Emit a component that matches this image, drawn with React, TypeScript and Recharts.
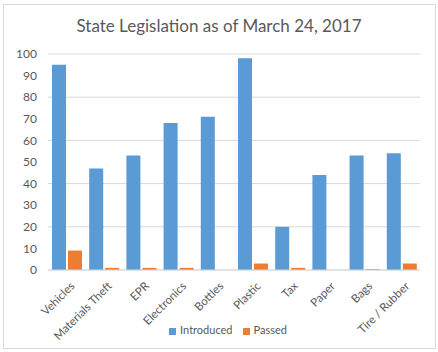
import React from "react";
import {
  BarChart,
  Bar,
  XAxis,
  YAxis,
  CartesianGrid,
  Legend,
} from "recharts";

const categories: string[] = [
  "Vehicles",
  "Materials Theft",
  "EPR",
  "Electronics",
  "Bottles",
  "Plastic",
  "Tax",
  "Paper",
  "Bags",
  "Tire / Rubber",
];
const introduced: number[] = [95, 47, 53, 68, 71, 98, 20, 44, 53, 54];
const passed: number[] = [9, 1, 1, 1, 0, 3, 1, 0, 0.4, 3];
const yTicks: number[] = [0, 10, 20, 30, 40, 50, 60, 70, 80, 90, 100];

const data = categories.map((name, i) => ({
  name,
  Introduced: introduced[i],
  Passed: passed[i],
}));

const FONT = "Lato, 'Open Sans', sans-serif";
const GREY = "#595959";

const App: React.FC = () => {
  return (
    <div
      style={{
        position: "absolute",
        left: 0,
        top: 0,
        width: 438,
        height: 352,
        background: "#fff",
        fontFamily: FONT,
      }}
    >
      {/* chart frame */}
      <div
        style={{
          position: "absolute",
          left: 3,
          top: 4,
          width: 431,
          height: 343,
          border: "1px solid #d9d9d9",
        }}
      />
      <div
        style={{
          position: "absolute",
          left: 0,
          top: 15,
          width: 438,
          textAlign: "center",
          fontSize: 17,
          color: GREY,
        }}
      >
        State Legislation as of March 24, 2017
      </div>
      <div style={{ position: "absolute", left: 0, top: 0 }}>
        <BarChart
          width={438}
          height={352}
          data={data}
          margin={{ top: 54, right: 18, left: 0, bottom: 0 }}
          barSize={14}
          barGap={2}
        >
          <CartesianGrid vertical={false} stroke="#d9d9d9" />
          <XAxis
            dataKey="name"
            interval={0}
            angle={-45}
            textAnchor="end"
            height={82}
            tickLine={false}
            axisLine={{ stroke: "#d9d9d9" }}
            tick={{ fontSize: 11.5, fill: GREY, fontFamily: FONT, dx: 3 }}
            tickMargin={5}
          />
          <YAxis
            width={48}
            domain={[0, 100]}
            ticks={yTicks}
            axisLine={false}
            tickLine={false}
            tickMargin={5}
            tick={{ fontSize: 12, fill: GREY, fontFamily: FONT }}
          />
          <Legend
            layout="horizontal"
            verticalAlign="middle"
            align="center"
            iconType="square"
            iconSize={7}
            wrapperStyle={{
              top: 323,
              left: 14,
              width: 438,
              fontSize: 11,
              fontFamily: FONT,
            }}
            formatter={(value: string) => (
              <span style={{ color: GREY }}>{value}</span>
            )}
          />
          <Bar dataKey="Introduced" fill="#5B9BD5" isAnimationActive={false} />
          <Bar dataKey="Passed" fill="#ED7D31" isAnimationActive={false} />
        </BarChart>
      </div>
    </div>
  );
};

export default App;
